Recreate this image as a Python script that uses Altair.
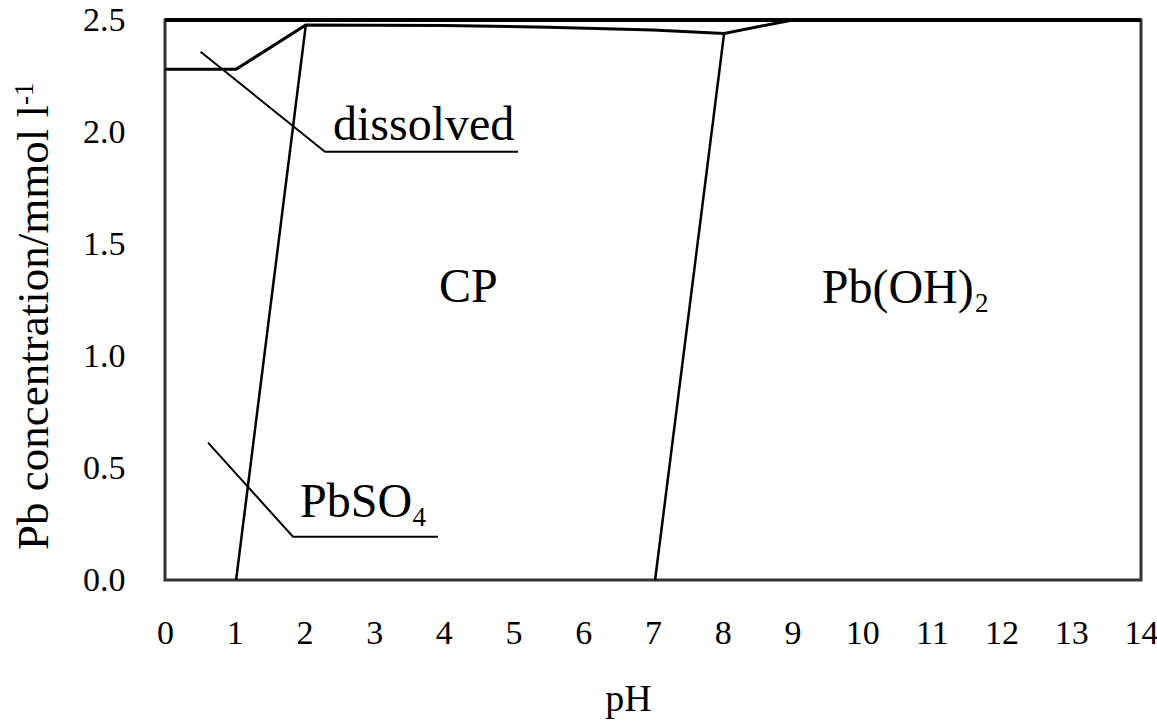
import altair as alt
import pandas as pd

FONT = "Liberation Serif"

# Phase boundaries (pH, Pb concentration in mmol/l)
top_ph = [0, 14]
top_conc = [2.5, 2.5]

dissolved_ph = [0, 1.02, 2.02, 4.0, 5.5, 7.0, 8.02, 9.0, 14]
dissolved_conc = [2.28, 2.28, 2.478, 2.475, 2.468, 2.455, 2.44, 2.5, 2.5]

pbso4_cp_ph = [1.02, 2.02]
pbso4_cp_conc = [0.0, 2.478]

cp_oh_ph = [7.03, 8.02]
cp_oh_conc = [0.0, 2.44]

# Leader lines for the labels
lead_dissolved_ph = [0.51, 2.295, 5.064]
lead_dissolved_conc = [2.358, 1.912, 1.912]

lead_pbso4_ph = [0.617, 1.836, 3.916]
lead_pbso4_conc = [0.613, 0.193, 0.193]

# Region labels: text, pH, concentration
label_text = ["dissolved", "CP", "Pb(OH)", "PbSO"]
label_ph = [2.41, 4.35, 9.42, 1.937]
label_conc = [1.964, 1.241, 1.237, 0.281]
label_align = ["left", "center", "left", "left"]

# Chemical-formula subscripts
sub_text = ["2", "4"]
sub_ph = [11.62, 3.55]
sub_conc = [1.196, 0.241]

x_ticks = list(range(0, 15))
y_ticks = [0.0, 0.5, 1.0, 1.5, 2.0, 2.5]

W, H = 976, 560

xs = alt.Scale(domain=[0, 14], nice=False, zero=False)
ys = alt.Scale(domain=[0, 2.5], nice=False)

rows = []
for name, ph, conc, w in [
    ("top", top_ph, top_conc, 4),
    ("dissolved", dissolved_ph, dissolved_conc, 3),
    ("pbso4_cp", pbso4_cp_ph, pbso4_cp_conc, 2.5),
    ("cp_oh", cp_oh_ph, cp_oh_conc, 2.5),
    ("lead1", lead_dissolved_ph, lead_dissolved_conc, 2),
    ("lead2", lead_pbso4_ph, lead_pbso4_conc, 2),
]:
    for i, (p, c) in enumerate(zip(ph, conc)):
        rows.append({"series": name, "pH": p, "conc": c, "order": i, "w": w})
lines_df = pd.DataFrame(rows)

lines = alt.Chart(lines_df).mark_line(color="black").encode(
    x=alt.X("pH:Q", scale=xs,
            axis=alt.Axis(values=x_ticks, format="d", title="pH", grid=False,
                          ticks=False, tickSize=0, domain=False,
                          labelFontSize=34, labelColor="black",
                          labelPadding=36, labelFlush=False,
                          titleFontSize=38, titleFontWeight="normal",
                          titleColor="black", titleX=463, titleY=130,
                          titleBaseline="alphabetic")),
    y=alt.Y("conc:Q", scale=ys,
            axis=alt.Axis(values=y_ticks, format=".1f", title=None, grid=False,
                          ticks=False, tickSize=0, domain=False,
                          labelFontSize=34, labelColor="black",
                          labelPadding=40, labelFlush=False)),
    detail="series:N",
    order="order:Q",
    strokeWidth=alt.StrokeWidth("w:Q", scale=None),
)

labels_df = pd.DataFrame({"text": label_text, "pH": label_ph, "conc": label_conc,
                          "align": label_align})
labels = alt.layer(*[
    alt.Chart(labels_df[labels_df["align"] == a]).mark_text(
        font=FONT, fontSize=48, color="black", align=a, baseline="alphabetic"
    ).encode(x=alt.X("pH:Q", scale=xs), y=alt.Y("conc:Q", scale=ys), text="text:N")
    for a in ["left", "center"]
])

subs = alt.Chart(pd.DataFrame({"text": sub_text, "pH": sub_ph, "conc": sub_conc})).mark_text(
    font=FONT, fontSize=27, color="black", align="left", baseline="alphabetic"
).encode(x=alt.X("pH:Q", scale=xs), y=alt.Y("conc:Q", scale=ys), text="text:N")

# Rotated y-axis title with superscript exponent
ytitle = alt.Chart(pd.DataFrame({"t": ["Pb concentration/mmol l"]})).mark_text(
    font=FONT, fontSize=45, color="black", angle=270, align="left", baseline="alphabetic"
).encode(x=alt.value(-117), y=alt.value(530), text="t:N")

ysup = alt.Chart(pd.DataFrame({"t": ["-1"]})).mark_text(
    font=FONT, fontSize=27, color="black", angle=270, align="left", baseline="alphabetic"
).encode(x=alt.value(-132), y=alt.value(85), text="t:N")

chart = alt.layer(lines, labels, subs, ytitle, ysup).properties(
    width=W, height=H,
    background="white",
    autosize=alt.AutoSizeParams(type="none"),
    padding={"left": 165, "top": 20, "right": 16, "bottom": 145},
).configure(font=FONT).configure_axis(labelFont=FONT, titleFont=FONT).configure_view(
    stroke="#333333", strokeWidth=3)

chart.save("out.html", embed_options={"renderer": "svg", "actions": False})
